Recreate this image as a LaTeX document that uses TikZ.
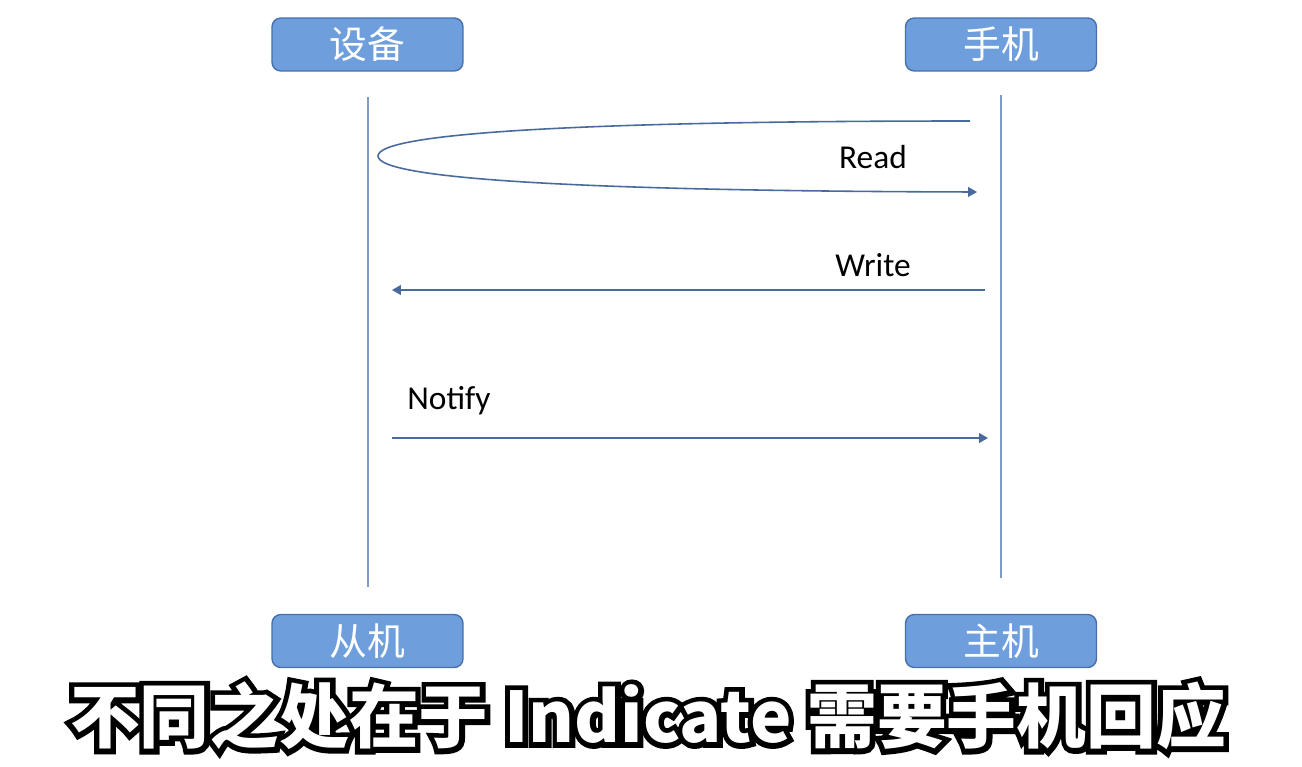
\documentclass[tikz,border=0pt]{standalone}
\usepackage{fontspec}
\setmainfont{Carlito}
\newfontfamily\cjk{Noto Sans CJK SC}
\newfontfamily\cjkrim{Noto Sans CJK SC}[BoldFeatures={FakeBold=15}]
\usetikzlibrary{arrows.meta}

\definecolor{rolefill}{RGB}{110,158,220}
\definecolor{roleedge}{RGB}{70,112,172}
\definecolor{lifeline}{RGB}{125,155,198}
\definecolor{msgline}{RGB}{72,106,158}

\tikzset{
  role/.style={draw=roleedge, fill=rolefill, line width=0.8pt, rounded corners=5pt,
    minimum width=3.82cm, minimum height=1.06cm, text=white,
    font=\cjk\fontsize{21.5}{22}\selectfont},
  lifeline/.style={draw=lifeline, line width=0.6pt},
  msg/.style={draw=msgline, line width=0.9pt, -{Triangle[length=5pt,width=5.5pt]}},
  msglabel/.style={font=\fontsize{19}{20}\selectfont, text=black},
  subline/.style={font=\cjk\bfseries\fontsize{39.7}{41}\selectfont},
  subrim/.style={font=\cjkrim\bfseries\fontsize{39.7}{41}\selectfont}
}

\begin{document}
\begin{tikzpicture}[x=0.02cm, y=-0.02cm]
  \fill[white] (0,0) rectangle (1302,767);
  \useasboundingbox (0,0) rectangle (1302,767);

  % roles
  \node[role] (device) at (367.5,44.5) {设备};
  \node[role] (phone) at (1001,44.5) {手机};
  \node[role] (slave) at (367.5,641) {从机};
  \node[role] (master) at (1001,641) {主机};

  % lifelines
  \coordinate (devtop) at (368,97);
  \coordinate (devbot) at (368,587);
  \coordinate (photop) at (1001,95);
  \coordinate (phobot) at (1001,578);
  \draw[lifeline] (devtop) -- (devbot);
  \draw[lifeline] (photop) -- (phobot);

  % read
  \coordinate (readstart) at (970,121);
  \coordinate (readturn) at (378,156);
  \coordinate (readend) at (977,192);
  \draw[msg] (readstart) .. controls (600,121) and (378,132) .. (readturn)
    .. controls (378,180) and (600,191) .. (readend);
  \node[msglabel] (read) at (873,157) {Read};

  % write
  \coordinate (writestart) at (985,290);
  \coordinate (writeend) at (392,290);
  \draw[msg] (writestart) -- (writeend);
  \node[msglabel] (write) at (873,265) {Write};

  % notify
  \coordinate (notifystart) at (392,438);
  \coordinate (notifyend) at (988,438);
  \draw[msg] (notifystart) -- (notifyend);
  \node[msglabel] (notify) at (449,401) {Notify};

  % subtitle
  \coordinate (sub) at (648,716);
  \node[subrim, text=black] (subtitlerim) at (sub) {不同之处在于 Indicate 需要手机回应};
  \node[subline, text=white] (subtitle) at (sub) {不同之处在于 Indicate 需要手机回应};
\end{tikzpicture}
\end{document}
